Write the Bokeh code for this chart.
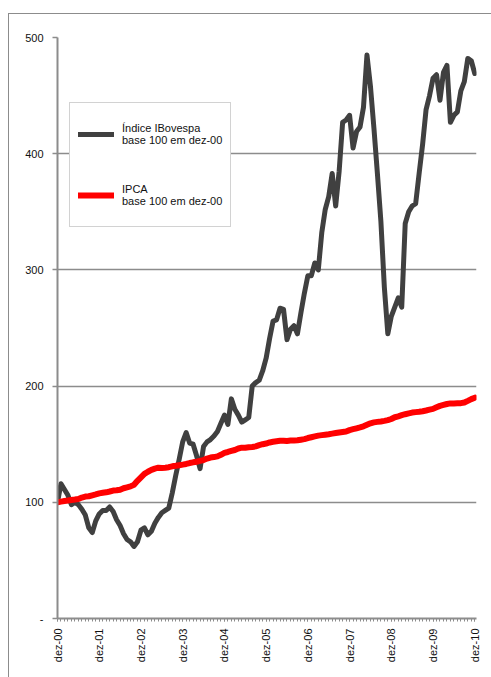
from bokeh.plotting import figure
from bokeh.models import (Range1d, FixedTicker, Legend, LegendItem)
from bokeh.embed import file_html
from bokeh.resources import INLINE

# ---- data (monthly, dez-00 = month 0 ... dez-10 = month 120) ----
year_labels = ["dez-00", "dez-01", "dez-02", "dez-03", "dez-04", "dez-05",
               "dez-06", "dez-07", "dez-08", "dez-09", "dez-10"]

ibovespa = [
    100, 116, 111, 106, 98, 100, 98, 94, 89, 78, 74, 84,          # dez-00 .. nov-01
    90, 93, 93, 96, 92, 85, 80, 73, 68, 66, 62, 66,               # dez-01 .. nov-02
    76, 78, 72, 75, 82, 87, 91, 93, 95, 108, 123, 137,            # dez-02 .. nov-03
    152, 160, 151, 150, 140, 129, 148, 152, 154, 157, 161, 168,   # dez-03 .. nov-04
    175, 167, 189, 180, 175, 169, 171, 173, 200, 203, 205, 213,   # dez-04 .. nov-05
    224, 241, 256, 257, 267, 266, 240, 249, 252, 245, 263, 280,   # dez-05 .. nov-06
    295, 295, 306, 300, 332, 352, 363, 383, 355, 385, 427, 429,   # dez-06 .. nov-07
    433, 405, 419, 423, 440, 485, 458, 422, 383, 342, 285, 245,   # dez-07 .. nov-08
    260, 268, 276, 268, 340, 350, 355, 357, 383, 408, 438, 450,   # dez-08 .. nov-09
    465, 468, 446, 470, 476, 427, 433, 436, 454, 462, 482, 480,   # dez-09 .. nov-10
    469,                                                          # dez-10
]

ipca = [
    100.0, 100.6, 101.1, 101.5, 102.0, 102.4, 102.9, 104.1, 104.9, 105.2, 106.0, 106.8,
    107.7, 108.2, 108.6, 109.3, 110.1, 110.3, 110.8, 112.1, 112.9, 113.7, 115.1, 118.5,
    121.5, 124.5, 126.3, 127.9, 129.0, 129.8, 129.6, 129.8, 130.2, 131.0, 131.4, 131.9,
    132.4, 133.0, 133.8, 134.4, 134.9, 135.6, 136.3, 137.6, 138.5, 138.9, 139.5, 140.9,
    142.5, 143.3, 144.2, 145.0, 146.3, 147.0, 147.0, 147.4, 147.6, 148.1, 149.2, 150.0,
    150.6, 151.5, 152.1, 152.5, 152.9, 153.0, 152.8, 153.1, 153.1, 153.4, 153.9, 154.4,
    155.3, 156.0, 156.7, 157.4, 157.8, 158.2, 158.6, 159.1, 159.6, 160.1, 160.5, 160.9,
    162.1, 162.9, 163.7, 164.5, 165.4, 166.7, 168.0, 168.8, 169.2, 169.6, 170.1, 170.7,
    171.7, 173.2, 174.0, 175.0, 175.8, 176.5, 177.2, 177.6, 177.9, 178.4, 179.0, 179.7,
    180.4, 181.8, 183.0, 183.8, 184.6, 185.1, 185.1, 185.2, 185.3, 185.9, 187.3, 188.8,
    190.0,
]

months = list(range(len(ibovespa)))
year_ticks = [12 * i for i in range(len(year_labels))]
y_ticks = [0, 100, 200, 300, 400, 500]
y_labels = ["-", "100", "200", "300", "400", "500"]

FONT = "Liberation Sans"
GRAY = "#8c8c8c"

p = figure(width=491, height=677, output_backend="svg", toolbar_location=None,
           x_range=Range1d(0, 120.5), y_range=Range1d(0, 500),
           min_border_left=57, min_border_right=15, min_border_top=37,
           min_border_bottom=59)
p.outline_line_color = None
p.background_fill_color = "white"
p.border_fill_color = None   # let the page background (with the outer frame) show

# outer chart-area frame: thin gray lines along the top (y=13) and left (x=8)
p.styles = {
    "background":
        f"linear-gradient({GRAY}, {GRAY}) 8px 13px / 1px 100% no-repeat, "
        f"linear-gradient({GRAY}, {GRAY}) 8px 13px / 100% 1px no-repeat, white",
}

r_ibov = p.line(months, ibovespa, line_color="#404040", line_width=5,
                line_join="round", line_cap="round")
r_ipca = p.line(months, ipca, line_color="#ff0000", line_width=6,
                line_join="round", line_cap="round")

# y axis
p.yaxis.ticker = FixedTicker(ticks=y_ticks)
p.yaxis.major_label_overrides = {t: l for t, l in zip(y_ticks, y_labels)}
p.yaxis.axis_line_color = GRAY
p.yaxis.axis_line_width = 2
p.yaxis.major_tick_line_color = GRAY
p.yaxis.major_tick_line_width = 1.5
p.yaxis.major_tick_out = 5
p.yaxis.major_tick_in = 0
p.yaxis.minor_tick_line_color = None
p.yaxis.major_label_standoff = 9
p.yaxis.major_label_text_font = FONT
p.yaxis.major_label_text_font_size = "11px"
p.yaxis.major_label_text_color = "#111111"

# x axis
p.xaxis.ticker = FixedTicker(ticks=year_ticks, minor_ticks=months)
p.xaxis.major_label_overrides = {t: l for t, l in zip(year_ticks, year_labels)}
p.xaxis.major_label_orientation = 3.14159265 / 2
p.xaxis.axis_line_color = GRAY
p.xaxis.axis_line_width = 2
p.xaxis.major_tick_line_color = GRAY
p.xaxis.major_tick_out = 3
p.xaxis.major_tick_in = 0
p.xaxis.minor_tick_line_color = GRAY
p.xaxis.minor_tick_out = 3
p.xaxis.minor_tick_in = 0
p.xaxis.major_label_standoff = 7
p.xaxis.major_label_text_font = FONT
p.xaxis.major_label_text_font_size = "11px"
p.xaxis.major_label_text_color = "#111111"

# grid
p.xgrid.grid_line_color = None
p.ygrid.ticker = FixedTicker(ticks=y_ticks[1:])
p.ygrid.grid_line_color = GRAY
p.ygrid.grid_line_width = 1.5

# legend
legend = Legend(items=[
    LegendItem(label="Índice IBovespa\nbase 100 em dez-00", renderers=[r_ibov]),
    LegendItem(label="IPCA\nbase 100 em dez-00", renderers=[r_ipca]),
], location=(12, 391))
legend.label_text_font = FONT
legend.label_text_font_size = "11px"
legend.label_text_line_height = 1.45
legend.label_text_color = "#111111"
legend.glyph_width = 36
legend.glyph_height = 30
legend.label_height = 46
legend.label_standoff = 8
legend.spacing = 15
legend.padding = 8
legend.margin = 0
legend.border_line_color = "#a6a6a6"
legend.border_line_width = 1
legend.background_fill_color = "white"
legend.background_fill_alpha = 1
p.add_layout(legend, "center")

open("out.html", "w").write(file_html(p, INLINE))
